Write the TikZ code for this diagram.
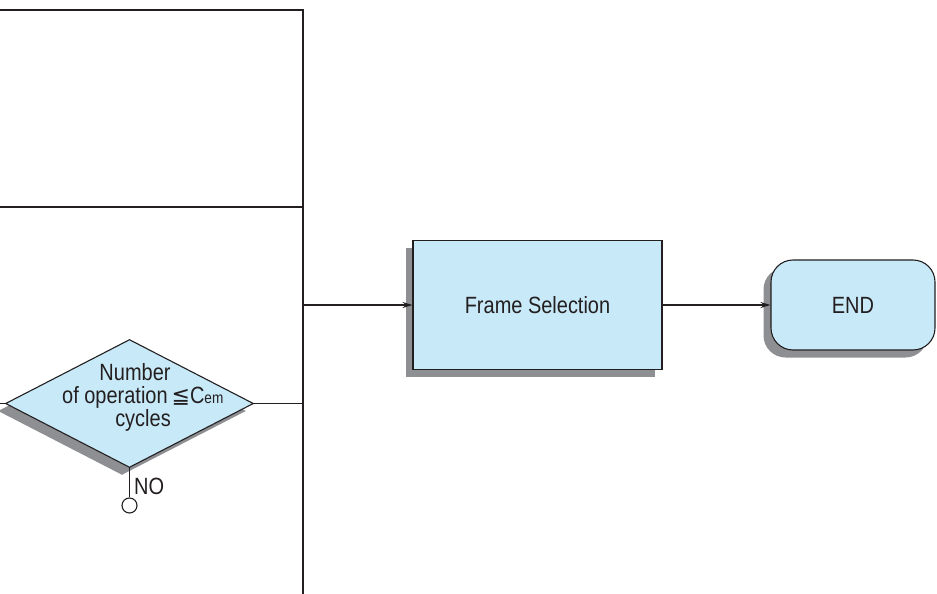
\documentclass[tikz,border=0pt]{standalone}
\usepackage{fontspec}
\setmainfont[FakeStretch=0.85]{Liberation Sans}
\newfontfamily\symfont{DejaVu Sans}
\usetikzlibrary{shapes.geometric,shadows,arrows.meta}
\definecolor{boxfill}{HTML}{C8E9F8}
\definecolor{shadowgray}{HTML}{8E8F93}
\definecolor{ink}{HTML}{231F20}
\tikzset{
  ln/.style={draw=ink, line width=1.1pt},
  arr/.style={ln, -{Stealth[length=10pt,width=6pt]}},
  sh/.style={general shadow={shadow xshift=-7.5pt, shadow yshift=-7.5pt, fill=shadowgray}},
  txt/.style={font=\fontsize{23.5}{23}\selectfont, text=ink},
  procbox/.style={ln, fill=boxfill, sh, minimum width=249pt, minimum height=129pt, inner sep=0pt, txt},
  endbox/.style={ln, fill=boxfill, sh, rounded corners=22pt, minimum width=164pt, minimum height=90pt, inner sep=0pt, txt},
  decbox/.style={ln, fill=boxfill, sh, diamond, aspect=1.95, minimum width=248pt, minimum height=128pt, inner sep=0pt},
  lbl/.style={txt, inner sep=0pt},
}
\begin{document}
\begin{tikzpicture}[x=1pt,y=-1pt]
\useasboundingbox (0,0) rectangle (937,594);
% frame lines
\coordinate (tl) at (0,10);
\coordinate (tr) at (303,10);
\coordinate (bot) at (303,594);
\coordinate (ml) at (0,207);
\coordinate (mr) at (303,207);
\coordinate (j1) at (303,305);
\coordinate (j2) at (303,403.5);
\coordinate (lft) at (0,403.5);
\draw[ln] (tl) -- (tr) -- (bot);
\draw[ln] (ml) -- (mr);
% nodes
\node[procbox] (fs) at (537.5,305) {\raisebox{-1pt}{Frame Selection}};
\node[endbox] (end) at (853,305) {END};
\node[decbox] (dec) at (129.5,403.5) {};
\node[lbl, anchor=base] (dl1) at (135,380) {Number};
\node[lbl, anchor=base west] (dl2) at (62,403) {of operation\,{\symfont\fontsize{22}{23}\selectfont ≦}C{\fontsize{16}{16}\selectfont em}};
\node[lbl, anchor=base] (dl3) at (143,426) {cycles};
% connectors
\draw[arr] (j1) -- (fs.west);
\draw[arr] (fs.east) -- (end.west);
\draw[ln] (dec.east) -- (j2);
\draw[ln] (dec.west) -- (lft);
\node[ln, circle, fill=white, minimum size=15pt, inner sep=0pt] (circ) at (129.5,505.5) {};
\draw[ln] (dec.south) -- (circ.north);
\node[lbl, anchor=base west] (no) at (134,494) {NO};
\end{tikzpicture}
\end{document}
